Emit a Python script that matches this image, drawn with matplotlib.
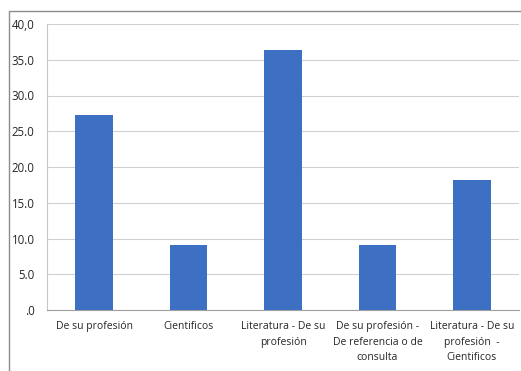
import matplotlib.pyplot as plt
from matplotlib.patches import Rectangle

# datos
categorias = [
    "De su profesión",
    "Cientificos",
    "Literatura - De su\nprofesión",
    "De su profesión -\nDe referencia o de\nconsulta",
    "Literatura - De su\nprofesión  -\nCientificos",
]
porcentajes = [27.3, 9.1, 36.4, 9.1, 18.2]
ticks_y = [0, 5, 10, 15, 20, 25, 30, 35, 40]
etiquetas_y = [".0", "5.0", "10.0", "15.0", "20.0", "25.0", "30.0", "35.0", "40,0"]

plt.rcParams['font.family'] = ['Open Sans', 'DejaVu Sans']

fig = plt.figure(figsize=(5.21, 3.71), dpi=100)
fig.patch.set_facecolor('white')

# marco exterior del grafico
fig.patches.append(Rectangle((9 / 521, -0.02), 1.1, 1 - 11 / 371 + 0.02,
                             transform=fig.transFigure, fill=False,
                             edgecolor='#8c8c8c', linewidth=1.0))

ax = fig.add_axes([47 / 521, 1 - 310 / 371, 472 / 521, 286 / 371])
x = range(len(categorias))
ax.bar(x, porcentajes, width=0.4, color='#3d6fc2', zorder=3)

ax.set_xlim(-0.5, len(categorias) - 0.5)
ax.set_ylim(0, 40)
ax.set_yticks(ticks_y)
ax.set_yticklabels(etiquetas_y, fontsize=8.3, color='#262626')
ax.set_xticks(list(x))
ax.set_xticklabels(categorias, fontsize=7.5, color='#262626', linespacing=1.55,
                   va='top')
ax.tick_params(axis='both', length=0)
ax.tick_params(axis='y', pad=9)
ax.tick_params(axis='x', pad=8)

ax.grid(axis='y', color='#d0d0d0', linewidth=0.8, zorder=0)
for lado in ['top', 'right']:
    ax.spines[lado].set_visible(False)
ax.spines['left'].set_color('#c8c8c8')
ax.spines['bottom'].set_color('#a0a0a0')

fig.savefig('out.png', dpi=100)
